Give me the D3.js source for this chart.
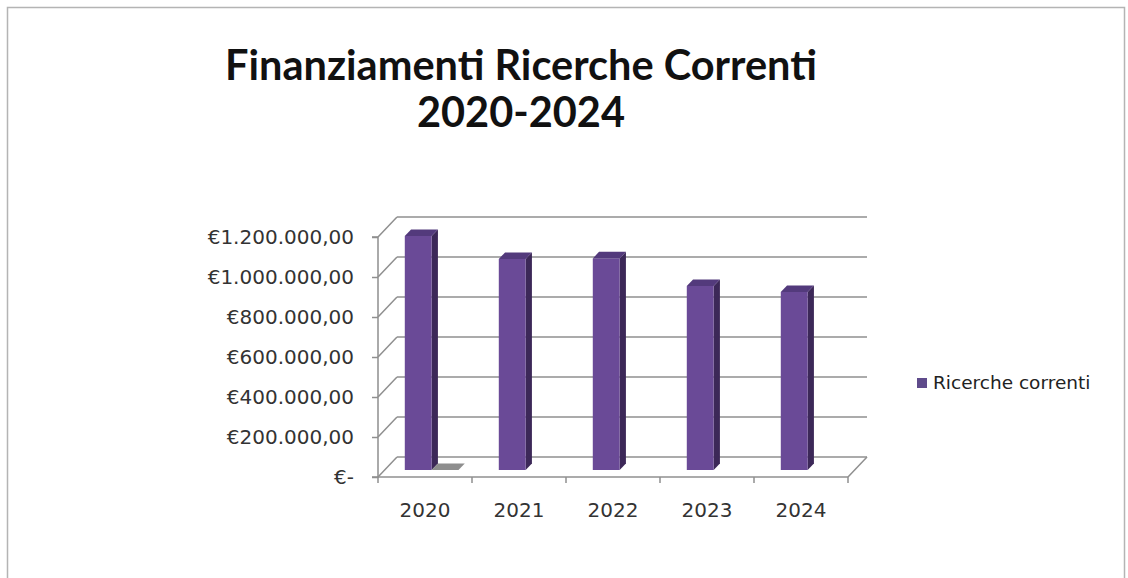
<!DOCTYPE html>
<html>
<head>
<meta charset="utf-8">
<script src="https://cdn.jsdelivr.net/npm/d3@7"></script>
<style>
  html, body { margin: 0; padding: 0; background: #ffffff; }
  svg { display: block; }
</style>
</head>
<body>
<svg id="chart" width="1128" height="578"></svg>
<script>
// ---- data ----
const categories = ["2020", "2021", "2022", "2023", "2024"];
const ricercheCorrenti = [1170000, 1055000, 1058000, 920000, 890000];
const serieSecondaria = [0, null, null, null, null];
const seriesNames = ["Ricerche correnti", "Serie 2"];
const yTicks = [0, 200000, 400000, 600000, 800000, 1000000, 1200000];
const titleLines = ["Finanziamenti Ricerche Correnti", "2020-2024"];

// ---- layout ----
const svg = d3.select("#chart");
const DX = 19, DY = -20;           // depth projection of the back wall
const front = { x0: 378, x1: 848, y0: 477, y1: 237 };
const barDepth = [0.35, 0.68];
const gridColor = "#8f8f8f";
const colors = {
  front: "#6a4a97", side: "#3c2858", top: "#533a7c",
  grayTop: "#8e8e8e", grayFront: "#7a7a7a", grayside: "#6a6a6a",
  legend: "#5f4b8b"
};

// frame
svg.append("rect")
  .attr("x", 7.5).attr("y", 7.5).attr("width", 1117).attr("height", 640)
  .attr("fill", "none").attr("stroke", "#b4b4b4").attr("stroke-width", 1.5);

// title
const title = svg.append("text")
  .attr("text-anchor", "middle")
  .attr("font-family", "Lato, 'Open Sans', sans-serif")
  .attr("font-weight", "bold")
  .attr("font-size", 41.5)
  .attr("fill", "#111");
title.append("tspan").attr("x", 521).attr("y", 80).text(titleLines[0]);
title.append("tspan").attr("x", 521).attr("y", 127).text(titleLines[1]);

// scales
const x = d3.scaleBand().domain(categories).range([front.x0, front.x1]).padding(0);
const y = d3.scaleLinear().domain([0, 1200000]).range([front.y0, front.y1]);
const bw = x.bandwidth();
const gap = bw * 0.75 / 3.5;
const inner = d3.scaleBand().domain([0, 1]).range([gap, bw - gap]).padding(0);

const g = svg.append("g");

// walls: side wall + back wall gridlines
yTicks.forEach(t => {
  const yy = y(t);
  g.append("line")
    .attr("x1", front.x0).attr("y1", yy).attr("x2", front.x0 + DX).attr("y2", yy + DY)
    .attr("stroke", gridColor).attr("stroke-width", 1.5);
  g.append("line")
    .attr("x1", front.x0 + DX).attr("y1", yy + DY).attr("x2", front.x1 + DX).attr("y2", yy + DY)
    .attr("stroke", gridColor).attr("stroke-width", 1.5);
});
// floor right edge
g.append("line")
  .attr("x1", front.x1).attr("y1", y(0)).attr("x2", front.x1 + DX).attr("y2", y(0) + DY)
  .attr("stroke", gridColor).attr("stroke-width", 1.5);

// value axis (front edge of side wall)
const yAxis = d3.axisLeft(y).tickValues(yTicks).tickSize(6).tickPadding(18)
  .tickFormat(d => d === 0 ? "€-" : "€" + d3.format(",.2f")(d).replace(/,/g, "#").replace(/\./g, ",").replace(/#/g, "."));
const ya = svg.append("g").attr("transform", `translate(${front.x0},0)`).call(yAxis);
ya.select(".domain").attr("stroke", gridColor).attr("stroke-width", 1.5)
  .attr("d", `M-6,${y(0)}H0V${y(1200000)}H-6`);
ya.selectAll(".tick line").attr("stroke", gridColor).attr("stroke-width", 1.5);
ya.selectAll(".tick text")
  .attr("font-family", "'DejaVu Sans', sans-serif").attr("font-size", 20).attr("fill", "#333");

// category axis (front floor edge)
const xAxis = d3.axisBottom(x).tickSize(0).tickPadding(26);
const xa = svg.append("g").attr("transform", `translate(0,${front.y0})`).call(xAxis);
xa.select(".domain").attr("stroke", gridColor).attr("stroke-width", 1.5)
  .attr("d", `M${front.x0},0H${front.x1}`);
xa.selectAll(".tick text")
  .attr("font-family", "'DejaVu Sans', sans-serif").attr("font-size", 20).attr("fill", "#333");
// category boundary tick marks
const bounds = categories.map(c => x(c)).concat([front.x1]);
xa.selectAll(".bound").data(bounds).join("line").attr("class", "bound")
  .attr("x1", d => d).attr("x2", d => d).attr("y1", 0).attr("y2", 6)
  .attr("stroke", gridColor).attr("stroke-width", 1.5);

// 3D bars
function drawBar(cat, value, slot, c) {
  if (value === null || value === undefined) return;
  const [d0, d1] = barDepth;
  const bx0 = x(cat) + inner(slot) + d0 * DX;
  const bx1 = bx0 + inner.bandwidth();
  const ox = (d1 - d0) * DX, oy = (d1 - d0) * DY;
  const yb = y(0) + d0 * DY;
  const yt = y(value) + d0 * DY;
  const bar = g.append("g");
  bar.append("path")
    .attr("d", `M${bx1},${yt}L${bx1 + ox},${yt + oy}L${bx1 + ox},${yb + oy}L${bx1},${yb}Z`)
    .attr("fill", c.side);
  bar.append("rect").attr("x", bx0).attr("y", yt).attr("width", bx1 - bx0).attr("height", Math.max(0, yb - yt))
    .attr("fill", c.front);
  bar.append("path")
    .attr("d", `M${bx0},${yt}L${bx1},${yt}L${bx1 + ox},${yt + oy}L${bx0 + ox},${yt + oy}Z`)
    .attr("fill", c.top);
}
categories.forEach((c, i) => {
  drawBar(c, ricercheCorrenti[i], 0, { front: colors.front, side: colors.side, top: colors.top });
  drawBar(c, serieSecondaria[i], 1, { front: colors.grayFront, side: colors.grayside, top: colors.grayTop });
});

// legend
const lg = svg.append("g").attr("transform", "translate(917,378)");
lg.append("rect").attr("width", 10).attr("height", 10).attr("fill", colors.legend);
lg.append("text").attr("x", 16).attr("y", 11)
  .attr("font-family", "'DejaVu Sans', sans-serif").attr("font-size", 18.5).attr("fill", "#222")
  .text(seriesNames[0]);
</script>
</body>
</html>
